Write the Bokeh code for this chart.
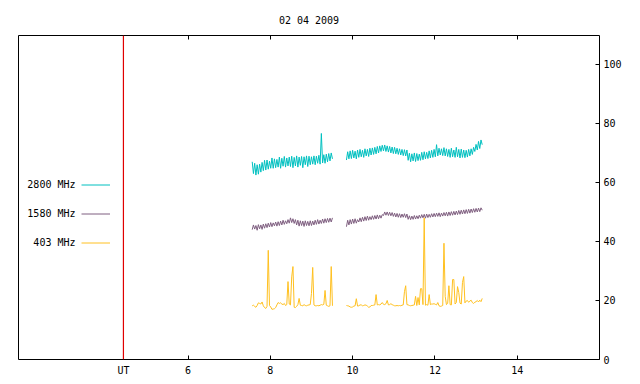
import numpy as np
from bokeh.plotting import figure
from bokeh.models import (Range1d, LinearAxis, FixedTicker, Span, Label,
                          Legend, LegendItem)
from bokeh.embed import file_html
from bokeh.resources import INLINE

TITLE = "02 04 2009"
UT_HOUR = 4.43
X_MIN, X_MAX = 1.88, 16.0
Y_MIN, Y_MAX = 0, 109.8
X_TICKS = [6, 8, 10, 12, 14]
Y_TICKS = [0, 20, 40, 60, 80, 100]
SERIES_NAMES = ["2800 MHz", "1580 MHz", "403 MHz"]
SERIES_COLORS = ["#00c0c0", "#7f5f80", "#ffc020"]

# sampling: two observing blocks, one sample every 0.03 h
STEP = 0.03
T1_START = 7.56
T2_START = 9.85

f2800_a = [67.0, 63.0, 66.5, 62.5, 66.0, 62.8, 66.2, 63.5, 66.8, 64.0,
           67.5, 64.2, 67.6, 64.5, 67.2, 64.8, 68.3, 64.8, 68.0, 65.0,
           67.8, 65.2, 68.6, 64.8, 68.2, 65.5, 68.8, 65.2, 68.3, 65.6,
           68.6, 65.4, 68.9, 65.0, 68.5, 65.6, 69.0, 65.2, 68.6, 65.8,
           68.8, 65.0, 68.7, 66.0, 69.0, 65.4, 68.9, 66.0, 68.7, 66.2,
           69.0, 66.0, 68.9, 66.5, 69.2, 66.2, 76.6, 66.6, 69.4, 66.5,
           69.6, 67.0, 69.8, 67.3, 70.0, 68.0]
f2800_b = [67.6, 70.4, 68.0, 70.7, 68.1, 70.9, 68.3, 70.6, 68.0, 71.0,
           68.5, 71.2, 68.7, 70.9, 68.5, 71.4, 69.0, 71.2, 68.8, 71.6,
           69.3, 71.7, 69.5, 71.9, 69.7, 72.2, 70.0, 72.4, 70.5, 72.6,
           70.7, 72.7, 70.5, 72.4, 70.3, 72.2, 70.0, 72.0, 69.8, 71.9,
           69.7, 71.6, 69.5, 71.4, 69.3, 71.2, 69.1, 71.1, 69.0, 71.0,
           67.5, 69.9, 67.0, 69.7, 67.3, 70.0, 67.1, 69.8, 67.4, 69.6,
           67.5, 70.2, 67.7, 70.4, 68.0, 70.2, 68.1, 70.7, 68.3, 70.9,
           68.5, 71.2, 68.7, 72.8, 69.0, 71.6, 69.3, 71.4, 69.1, 71.8,
           69.0, 71.4, 68.8, 71.2, 68.5, 71.6, 68.7, 71.0, 68.5, 71.9,
           68.7, 71.2, 68.3, 71.3, 68.5, 71.0, 68.4, 70.9, 68.6, 71.2,
           69.0, 71.4, 69.5, 71.9, 70.5, 72.9, 71.0, 73.9, 71.5, 74.4, 72.8]

f1580_a = [44.0, 45.6, 44.2, 45.4, 43.8, 45.7, 44.3, 45.6, 44.1, 45.9,
           44.5, 46.0, 44.7, 46.2, 44.9, 46.4, 45.0, 46.3, 45.3, 46.6,
           45.2, 46.7, 45.4, 46.9, 45.6, 47.2, 45.8, 47.0, 46.0, 47.4,
           46.2, 48.0, 46.4, 47.7, 46.1, 47.4, 45.6, 47.2, 45.2, 47.0,
           45.4, 46.9, 45.1, 47.0, 45.4, 46.8, 45.3, 47.0, 45.4, 46.9,
           45.6, 47.2, 45.8, 47.4, 45.9, 47.2, 46.1, 47.6, 46.2, 47.7,
           46.4, 47.8, 46.5, 47.9, 46.6, 48.0]
f1580_b = [45.0, 47.2, 45.6, 47.4, 45.9, 47.6, 46.1, 47.7, 46.2, 47.4,
           46.6, 48.0, 46.7, 48.2, 46.9, 48.4, 47.1, 48.6, 47.2, 48.4,
           47.4, 48.7, 47.5, 48.8, 47.6, 49.0, 47.7, 48.9, 47.9, 49.1,
           48.8, 50.0, 48.9, 50.0, 48.8, 49.9, 48.7, 49.8, 48.5, 49.6,
           48.3, 49.5, 48.2, 49.4, 48.1, 49.3, 48.2, 49.4, 48.1, 49.3,
           47.5, 48.7, 47.4, 48.6, 47.5, 48.8, 47.6, 48.7, 47.7, 48.9,
           47.9, 49.1, 48.0, 49.2, 47.9, 49.3, 48.1, 49.2, 48.2, 49.4,
           48.3, 49.5, 48.4, 49.6, 48.5, 49.7, 48.4, 49.6, 48.6, 49.8,
           48.7, 49.9, 48.6, 50.0, 48.8, 50.1, 48.9, 50.2, 49.0, 50.3,
           49.1, 50.5, 49.2, 50.6, 49.3, 50.7, 49.4, 50.8, 49.5, 50.9,
           49.6, 51.0, 49.8, 51.1, 49.9, 51.2, 50.0, 51.3, 50.1, 51.4, 50.6]

f403_a = [18.2, 18.4, 18.0, 17.7, 18.3, 19.2, 19.0, 18.8, 19.5, 18.2,
          17.6, 17.3, 18.0, 37.0, 18.3, 17.8, 17.0, 17.1, 17.2, 17.6,
          18.5, 19.3, 19.0, 19.2, 18.8, 18.6, 19.0, 18.3, 18.6, 26.4,
          18.8, 18.5, 28.0, 31.5, 17.7, 17.6, 18.0, 18.6, 20.7, 18.4,
          18.3, 18.2, 18.6, 18.3, 18.2, 18.4, 18.5, 18.6, 22.4, 31.2,
          18.5, 18.2, 18.2, 18.3, 18.2, 18.4, 18.6, 18.5, 18.7, 23.4,
          18.4, 18.2, 18.0, 18.2, 31.5, 18.2]
f403_b = [18.3, 18.2, 18.1, 17.8, 17.7, 17.8, 18.1, 18.2, 20.6, 18.1,
          18.2, 18.5, 18.5, 18.2, 18.3, 18.5, 18.4, 18.1, 17.7, 17.8,
          18.3, 18.3, 18.4, 18.5, 22.0, 18.5, 18.6, 18.5, 18.8, 19.3,
          18.7, 18.6, 18.9, 20.0, 18.5, 18.6, 18.9, 18.6, 18.4, 18.2,
          18.2, 18.3, 18.2, 18.3, 18.2, 18.4, 18.5, 23.0, 25.0, 18.6,
          18.5, 18.3, 18.2, 18.3, 18.4, 18.5, 21.4, 18.3, 21.0, 18.5,
          24.0, 24.0, 18.6, 48.0, 18.4, 18.6, 18.4, 22.0, 18.6, 18.8,
          18.8, 18.9, 18.7, 18.5, 19.3, 18.2, 18.0, 18.1, 18.3, 39.4,
          21.4, 18.6, 19.0, 25.0, 18.6, 18.5, 27.1, 27.1, 18.8, 19.3,
          24.7, 22.7, 19.1, 18.8, 26.1, 28.1, 19.2, 19.8, 20.0, 19.4,
          19.8, 20.1, 19.3, 19.0, 19.4, 19.6, 20.0, 19.5, 20.1, 19.6, 20.7]

FONT = "DejaVu Sans Mono"
FS = "10px"

p = figure(width=624, height=378, output_backend="svg", toolbar_location=None,
           x_range=Range1d(X_MIN, X_MAX), y_range=Range1d(Y_MIN, Y_MAX),
           x_axis_location=None, y_axis_location=None,
           min_border_left=18, min_border_right=20,
           min_border_top=35, min_border_bottom=19)
p.grid.visible = False
p.outline_line_color = "black"
p.outline_line_width = 1
p.background_fill_color = "white"
p.border_fill_color = "white"

p.title.text = TITLE
p.title.align = "center"
p.title.text_font = FONT
p.title.text_font_size = FS
p.title.text_font_style = "normal"
p.title.text_color = "black"
p.title.standoff = 19

def style_axis(ax):
    ax.axis_line_color = None
    ax.major_tick_in = 4
    ax.major_tick_out = 0
    ax.minor_tick_line_color = None
    ax.major_tick_line_color = "black"
    ax.major_label_text_font = FONT
    ax.major_label_text_font_size = FS
    ax.major_label_text_color = "black"

bottom = LinearAxis(ticker=FixedTicker(ticks=[UT_HOUR] + X_TICKS))
bottom.major_label_overrides = {UT_HOUR: "UT"}
style_axis(bottom)
bottom.major_label_standoff = 5
p.add_layout(bottom, "below")

top = LinearAxis(ticker=FixedTicker(ticks=X_TICKS))
style_axis(top)
top.major_label_overrides = {t: "" for t in X_TICKS}
top.major_label_standoff = 0
p.add_layout(top, "above")

right = LinearAxis(ticker=FixedTicker(ticks=Y_TICKS))
style_axis(right)
right.major_label_standoff = 4
p.add_layout(right, "right")

p.add_layout(Span(location=UT_HOUR, dimension="height",
                  line_color="#e00000", line_width=1.2))

t1 = T1_START + STEP * np.arange(len(f2800_a))
t2 = T2_START + STEP * np.arange(len(f2800_b))

series = [(f2800_a, f2800_b), (f1580_a, f1580_b), (f403_a, f403_b)]
items = []
for (a, b), name, col in zip(series, SERIES_NAMES, SERIES_COLORS):
    r1 = p.line(t1[:len(a)], a, line_color=col, line_width=1)
    p.line(t2[:len(b)], b, line_color=col, line_width=1)
    items.append(LegendItem(label="", renderers=[r1]))

legend = Legend(items=items, location=(63, 102), orientation="vertical",
                glyph_width=29, glyph_height=29, label_height=29,
                label_width=0, label_standoff=0, spacing=0, padding=0,
                margin=0, border_line_color=None, background_fill_alpha=0,
                label_text_font=FONT, label_text_font_size=FS)
p.add_layout(legend, "center")

for i, name in enumerate(SERIES_NAMES):
    p.add_layout(Label(x=57, y=175.3 - 29.2 * i, x_units="screen",
                       y_units="screen", text=name, text_align="right",
                       text_baseline="middle", text_font=FONT,
                       text_font_size=FS, text_color="black"))

open("out.html", "w").write(file_html(p, INLINE))
